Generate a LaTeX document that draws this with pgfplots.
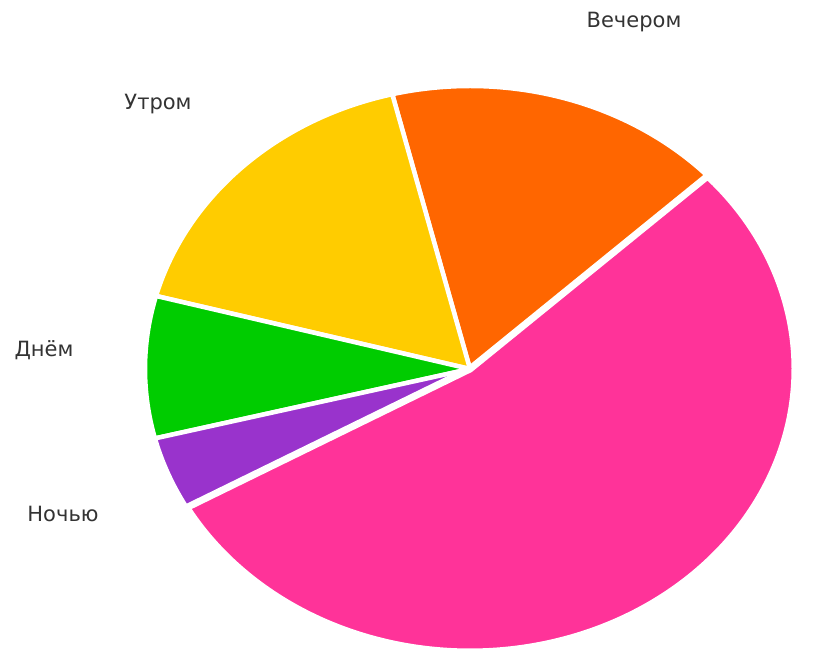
\documentclass[border=0pt]{standalone}
\usepackage{pgfplots}
\pgfplotsset{compat=1.18}
\usepackage{fontspec}
\setmainfont{DejaVu Sans}
\definecolor{cOr}{HTML}{FF6600}
\definecolor{cYe}{HTML}{FFCC00}
\definecolor{cGr}{HTML}{00CC00}
\definecolor{cPu}{HTML}{9933CC}
\definecolor{cPi}{HTML}{FF3399}
\definecolor{cTx}{HTML}{333333}
% slice shares, percent
\def\vOr{16.9}
\def\vYe{17.0}
\def\vGr{8.1}
\def\vPu{4.2}
\def\vPi{53.8}
\pgfmathsetmacro\aA{43}
\pgfmathsetmacro\aB{\aA+3.6*\vOr}
\pgfmathsetmacro\aC{\aB+3.6*\vYe}
\pgfmathsetmacro\aD{\aC+3.6*\vGr}
\pgfmathsetmacro\aE{\aD+3.6*\vPu}
\pgfmathsetmacro\aF{\aE+3.6*\vPi}
\tikzset{lbl/.style={font=\fontsize{21}{24}\selectfont, text=cTx, inner sep=0pt}}
\begin{document}
\begin{tikzpicture}
\begin{axis}[scale only axis, width=829pt, height=655pt,
  xmin=0, xmax=829, ymin=0, ymax=655, hide axis, clip=false]
\addplot[fill=cOr, draw=white, line width=4.5pt, line join=round, domain=\aA:\aB, samples=80]
  ({470+325*cos(x)},{286+283*sin(x)}) -- (axis cs:470,286) -- cycle;
\addplot[fill=cYe, draw=white, line width=4.5pt, line join=round, domain=\aB:\aC, samples=80]
  ({470+325*cos(x)},{286+283*sin(x)}) -- (axis cs:470,286) -- cycle;
\addplot[fill=cGr, draw=white, line width=4.5pt, line join=round, domain=\aC:\aD, samples=50]
  ({470+325*cos(x)},{286+283*sin(x)}) -- (axis cs:470,286) -- cycle;
\addplot[fill=cPu, draw=white, line width=4.5pt, line join=round, domain=\aD:\aE, samples=30]
  ({470+325*cos(x)},{286+283*sin(x)}) -- (axis cs:470,286) -- cycle;
\addplot[fill=cPi, draw=white, line width=7pt, line join=round, domain=\aE:\aF, samples=200]
  ({470+325*cos(x)},{286+283*sin(x)}) -- (axis cs:470,286) -- cycle;
\node[lbl] at (axis cs:634,633) {Вечером};
\node[lbl] at (axis cs:158,551) {Утром};
\node[lbl] at (axis cs:44,305) {Днём};
\node[lbl] at (axis cs:63,141) {Ночью};
\end{axis}
\useasboundingbox (current axis.south west) rectangle (current axis.north east);
\end{tikzpicture}
\end{document}
